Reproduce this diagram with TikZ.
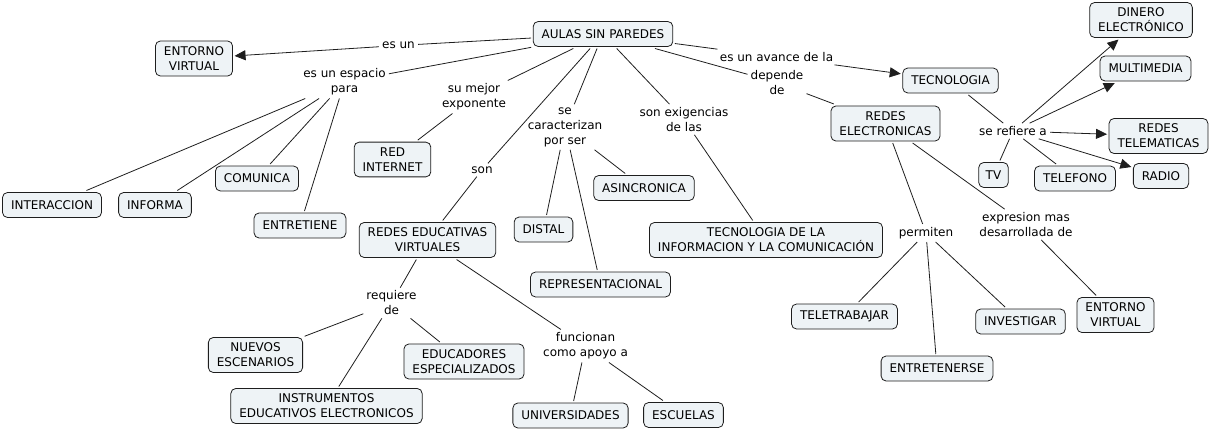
\documentclass[tikz,border=0pt]{standalone}
\usepackage{fontspec}
\setmainfont{DejaVu Sans}
\usepackage{tikz}
\usetikzlibrary{arrows.meta}
\definecolor{CMfill}{RGB}{238,243,246}
\definecolor{CMline}{RGB}{30,30,30}

\begin{document}
\begin{tikzpicture}[x=1pt, y=-1pt,
    every node/.style={font=\fontsize{12}{15}\selectfont, align=center},
    concept/.style={draw=CMline, line width=0.8pt, fill=CMfill, rounded corners=5pt,
      inner xsep=8.5pt, inner ysep=5.5pt, minimum height=25pt, outer sep=2pt},
    phrase/.style={inner sep=3pt},
    link/.style={draw=CMline, line width=0.8pt},
    linkarrow/.style={link, -{Triangle[length=11pt,width=10pt]}}]
  \useasboundingbox (0,0) rectangle (1211,431);

  \node[concept] (aulas) at (603,34) {AULAS SIN PAREDES};
  \node[phrase] (esun) at (398.5,45.5) {es un};
  \node[concept] (entornoA) at (194,58.5) {ENTORNO\\VIRTUAL};
  \node[phrase] (espacio) at (344.5,82) {es un espacio\\para};
  \node[concept] (interaccion) at (52,205) {INTERACCION};
  \node[concept] (informa) at (155,205) {INFORMA};
  \node[concept] (comunica) at (257,178.5) {COMUNICA};
  \node[concept] (entretiene) at (300,225.5) {ENTRETIENE};
  \node[phrase] (mejor) at (474,97) {su mejor\\exponente};
  \node[concept] (internet) at (392.5,159.5) {RED\\INTERNET};
  \node[phrase] (son) at (482,170) {son};
  \node[concept] (redesedu) at (427.5,240) {REDES EDUCATIVAS\\VIRTUALES};
  \node[phrase] (caract) at (565,127) {se\\caracterizan\\por ser};
  \node[concept] (asincronica) at (644,188) {ASINCRONICA};
  \node[concept] (distal) at (543.5,229.5) {DISTAL};
  \node[concept] (repres) at (600.5,284.5) {REPRESENTACIONAL};
  \node[phrase] (exigencias) at (684,119.5) {son exigencias\\de las};
  \node[concept] (tic) at (766,240) {TECNOLOGIA DE LA\\INFORMACION Y LA COMUNICACIÓN};

  \node[phrase] (requiere) at (391.5,303) {requiere\\de};
  \node[concept] (nuevos) at (255.5,355) {NUEVOS\\ESCENARIOS};
  \node[concept] (educadores) at (464,361.5) {EDUCADORES\\ESPECIALIZADOS};
  \node[concept] (instrumentos) at (326.5,406) {INSTRUMENTOS\\EDUCATIVOS ELECTRONICOS};
  \node[phrase] (funcionan) at (585.5,346) {funcionan\\como apoyo a};
  \node[concept] (universidades) at (570.5,415.5) {UNIVERSIDADES};
  \node[concept] (escuelas) at (683.5,415) {ESCUELAS};

  \node[phrase] (avance) at (776.5,57) {es un avance de la};
  \node[phrase] (depende) at (777,82.5) {depende\\de};
  \node[concept] (tecnologia) at (950.5,80.5) {TECNOLOGIA};
  \node[concept] (redeselec) at (885.5,123.5) {REDES\\ELECTRONICAS};
  \node[phrase] (refiere) at (1013,131) {se refiere a};
  \node[concept] (dinero) at (1141,20) {DINERO\\ELECTRÓNICO};
  \node[concept] (multimedia) at (1145.5,68.5) {MULTIMEDIA};
  \node[concept] (telematicas) at (1158.5,136) {REDES\\TELEMATICAS};
  \node[concept, inner xsep=7pt] (tv) at (993.5,175) {TV};
  \node[concept] (telefono) at (1075,178.5) {TELEFONO};
  \node[concept] (radio) at (1161,176) {RADIO};
  \node[phrase] (permiten) at (926,233) {permiten};
  \node[phrase] (expresion) at (1026,224.5) {expresion mas\\desarrollada de};
  \node[concept] (teletrabajar) at (844.5,316.5) {TELETRABAJAR};
  \node[concept] (investigar) at (1020.5,321.5) {INVESTIGAR};
  \node[concept] (entornoB) at (1115.5,315) {ENTORNO\\VIRTUAL};
  \node[concept] (entretenerse) at (937,368.5) {ENTRETENERSE};

  \foreach \a/\b in {aulas/esun, aulas/espacio, espacio/interaccion, espacio/informa,
      espacio/comunica, espacio/entretiene, aulas/mejor, mejor/internet, aulas/son,
      son/redesedu, aulas/caract, caract/asincronica, caract/distal, caract/repres,
      aulas/exigencias, exigencias/tic, redesedu/requiere, requiere/nuevos,
      requiere/educadores, requiere/instrumentos, redesedu/funcionan,
      funcionan/universidades, funcionan/escuelas, aulas/avance, aulas/depende,
      depende/redeselec, tecnologia/refiere, refiere/tv, refiere/telefono,
      redeselec/permiten, permiten/teletrabajar, permiten/entretenerse,
      permiten/investigar, redeselec/expresion, expresion/entornoB}
    \draw[link] (\a) -- (\b);
  \foreach \a/\b in {esun/entornoA, avance/tecnologia, refiere/dinero,
      refiere/multimedia, refiere/telematicas, refiere/radio}
    \draw[linkarrow] (\a) -- (\b);
\end{tikzpicture}
\end{document}
